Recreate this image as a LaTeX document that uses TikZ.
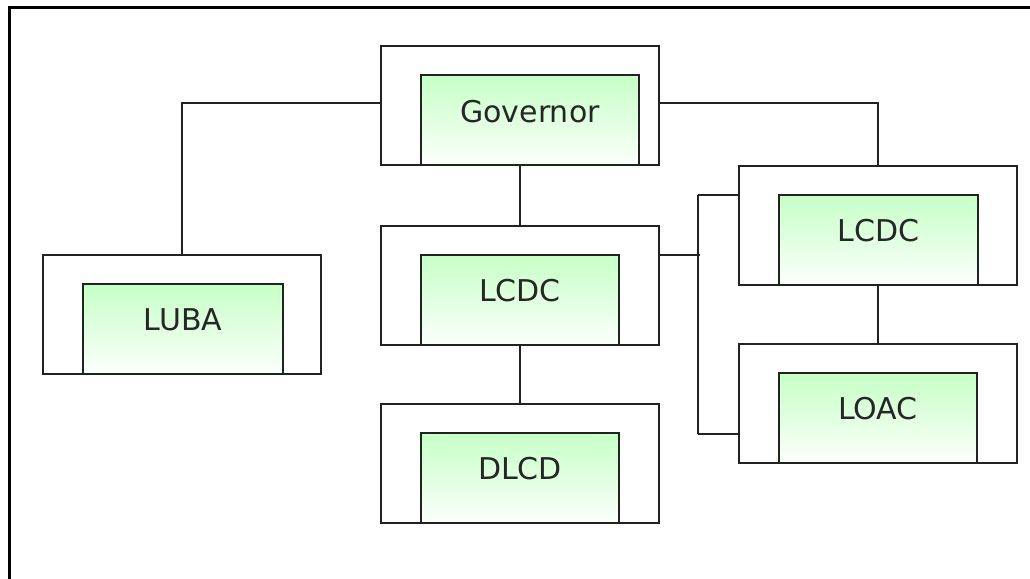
\documentclass[tikz,border=0pt]{standalone}
\usepackage{fontspec}
\setmainfont{DejaVu Sans}
\usetikzlibrary{calc}
\definecolor{linegray}{RGB}{34,34,34}
\definecolor{paleTop}{RGB}{198,255,198}
\definecolor{paleBot}{RGB}{252,255,252}
\tikzset{
  outerbox/.style={draw=linegray, line width=2pt, fill=white, minimum width=278pt,
    minimum height=119pt, anchor=north west, inner sep=0pt, outer sep=0pt},
  innerbox/.style={draw=linegray, line width=2pt, top color=paleTop, bottom color=paleBot,
    minimum height=90pt, anchor=south west, inner sep=0pt, outer sep=0pt},
  lbl/.style={font=\fontsize{30}{36}\selectfont, text=black!85, inner sep=0pt},
  conn/.style={draw=linegray, line width=2pt},
}
\begin{document}
\begin{tikzpicture}[x=1pt,y=-1pt]
  \useasboundingbox (0,0) rectangle (1030,578);
  \fill[white] (0,0) rectangle (1030,578);
  % page frame (runs past the right and bottom edges)
  \draw[black, line width=3pt] (9,8) rectangle (1060,610);

  % outer frames
  \node[outerbox] (gov)   at (381,46)  {};
  \node[outerbox] (luba)  at (43,255)  {};
  \node[outerbox] (mid)   at (381,226) {};
  \node[outerbox] (dlcd)  at (381,404) {};
  \node[outerbox] (rlcdc) at (739,166) {};
  \node[outerbox] (loac)  at (739,344) {};

  % inner shaded panels
  \node[innerbox, minimum width=218pt] (govI)   at ($(gov.south west)+(40,0)$)   {};
  \node[innerbox, minimum width=200pt] (lubaI)  at ($(luba.south west)+(40,0)$)  {};
  \node[innerbox, minimum width=198pt] (midI)   at ($(mid.south west)+(40,0)$)   {};
  \node[innerbox, minimum width=198pt] (dlcdI)  at ($(dlcd.south west)+(40,0)$)  {};
  \node[innerbox, minimum width=199pt] (rlcdcI) at ($(rlcdc.south west)+(40,0)$) {};
  \node[innerbox, minimum width=198pt] (loacI)  at ($(loac.south west)+(40,0)$)  {};

  % labels
  \node[lbl] (govT)   at ($(govI.north)+(0,37)$)   {Governor};
  \node[lbl] (lubaT)  at ($(lubaI.north)+(0,36)$)  {LUBA};
  \node[lbl] (midT)   at ($(midI.north)+(0,36)$)   {LCDC};
  \node[lbl] (dlcdT)  at ($(dlcdI.north)+(0,36)$)  {DLCD};
  \node[lbl] (rlcdcT) at ($(rlcdcI.north)+(0,36)$) {LCDC};
  \node[lbl] (loacT)  at ($(loacI.north)+(0,36)$)  {LOAC};

  % connectors
  \coordinate (govL) at ($(gov.north west)+(0,57)$);
  \coordinate (govR) at ($(gov.north east)+(0,57)$);
  \draw[conn] (govL) -| (luba.north);
  \draw[conn] (govR) -| (rlcdc.north);
  \draw[conn] (gov.south) -- (mid.north);
  \draw[conn] (mid.south) -- (dlcd.north);
  \draw[conn] (rlcdc.south) -- (loac.north);

  % side bus joining LCDC to the right-hand column
  \coordinate (busT) at (698,195);
  \coordinate (busB) at (698,434);
  \coordinate (midR) at ($(mid.north east)+(0,29)$);
  \draw[conn] (busT) -- (busB);
  \draw[conn] (busT) -- (busT -| rlcdc.west);
  \draw[conn] (busB) -- (busB -| loac.west);
  \draw[conn] (midR) -- ($(midR -| busT)+(2,0)$);
\end{tikzpicture}
\end{document}
